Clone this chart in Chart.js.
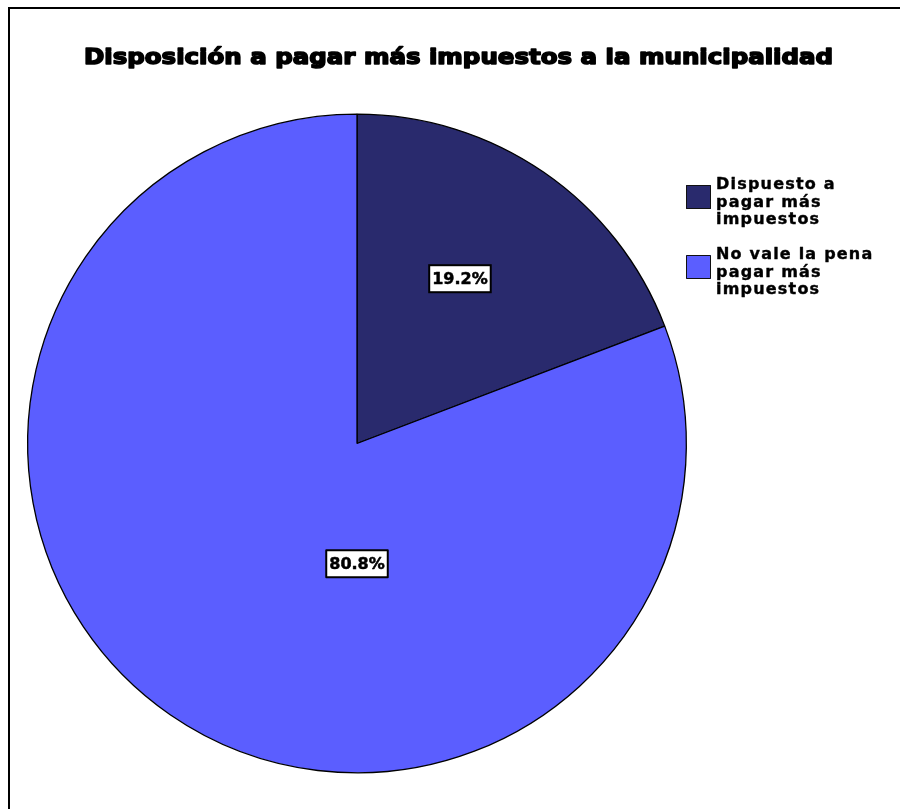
<!DOCTYPE html>
<html>
<head>
<meta charset="utf-8">
<script src="https://cdn.jsdelivr.net/npm/chart.js@4/dist/chart.umd.min.js"></script>
<style>
  html, body { margin: 0; padding: 0; background: #fff; overflow: hidden; }
  #wrap { position: relative; width: 900px; height: 809px; overflow: hidden; }
  #frame { position: absolute; left: 8px; top: 7px; width: 950px; height: 900px;
    border-left: 2px solid #000; border-top: 2px solid #000; }
  canvas { position: absolute; left: 0; top: 0; }
</style>
</head>
<body>
<div id="wrap">
  <div id="frame"></div>
  <canvas id="c" width="900" height="809"></canvas>
</div>
<script>
const title = "Disposición a pagar más impuestos a la municipalidad";
const categories = ["Dispuesto a pagar más impuestos", "No vale la pena pagar más impuestos"];
const percents = [19.2, 80.8];
const colors = ["#292A6D", "#5B5EFF"];

// where each % box sits: angle from 12 o'clock (deg) and fraction of radius
const labelSpots = [{ deg: 32, f: 0.59 }, { deg: 180, f: 0.365 }];

// heavy text: fill plus a thin stroke to mimic the black-weight face
function heavyText(ctx, txt, x, y, sw) {
  ctx.lineWidth = sw;
  ctx.strokeStyle = "#000";
  ctx.lineJoin = "round";
  ctx.strokeText(txt, x, y);
  ctx.fillText(txt, x, y);
}

const overlay = {
  id: "overlay",
  afterDraw(chart) {
    const ctx = chart.ctx;
    ctx.save();
    // title, stretched to the reference width
    ctx.fillStyle = "#000";
    ctx.font = "bold 22px 'DejaVu Sans'";
    ctx.textAlign = "center";
    ctx.textBaseline = "alphabetic";
    const tw = ctx.measureText(title).width;
    ctx.save();
    ctx.translate(458.5, 64);
    ctx.scale(749 / tw, 1);
    heavyText(ctx, title, 0, 0, 1.6);
    ctx.restore();

    // percent boxes
    const meta = chart.getDatasetMeta(0);
    ctx.font = "bold 16px 'DejaVu Sans'";
    meta.data.forEach((arc, i) => {
      const s = labelSpots[i];
      const a = s.deg * Math.PI / 180;
      const cx = arc.x + Math.sin(a) * arc.outerRadius * s.f;
      const cy = arc.y - Math.cos(a) * arc.outerRadius * s.f;
      const txt = percents[i].toFixed(1) + "%";
      const w = ctx.measureText(txt).width + 6;
      const h = 27;
      ctx.fillStyle = "#fff";
      ctx.fillRect(cx - w / 2, cy - h / 2, w, h);
      ctx.lineWidth = 2;
      ctx.strokeStyle = "#000";
      ctx.strokeRect(cx - w / 2, cy - h / 2, w, h);
      ctx.fillStyle = "#000";
      ctx.textAlign = "center";
      ctx.textBaseline = "middle";
      heavyText(ctx, txt, cx, cy + 1, 0.5);
    });

    // legend
    ctx.font = "bold 16px 'DejaVu Sans'";
    ctx.textAlign = "left";
    ctx.textBaseline = "alphabetic";
    if ("letterSpacing" in ctx) ctx.letterSpacing = "1.2px";
    categories.forEach((cat, i) => {
      const base = 189 + i * 70;
      ctx.fillStyle = colors[i];
      ctx.fillRect(686, base - 4, 25, 24);
      ctx.lineWidth = 1;
      ctx.strokeStyle = "#111";
      ctx.strokeRect(686.5, base - 3.5, 24, 23);
      ctx.fillStyle = "#000";
      const words = cat.split(" ");
      const lines = [];
      let cur = "";
      words.forEach((wd) => {
        const t = cur ? cur + " " + wd : wd;
        if (ctx.measureText(t).width > 180 && cur) { lines.push(cur); cur = wd; }
        else cur = t;
      });
      lines.push(cur);
      lines.forEach((ln, k) => heavyText(ctx, ln, 716, base + k * 17.5, 0.4));
    });
    ctx.restore();
  }
};

new Chart(document.getElementById("c"), {
  type: "pie",
  data: {
    labels: categories,
    datasets: [{
      data: percents,
      backgroundColor: colors,
      borderColor: "#000",
      borderWidth: 1.3,
    }],
  },
  options: {
    responsive: false,
    animation: false,
    layout: { padding: { left: 27, top: 113.5, right: 213, bottom: 35.5 } },
    plugins: { legend: { display: false }, tooltip: { enabled: false }, title: { display: false } },
  },
  plugins: [overlay],
});
</script>
</body>
</html>
